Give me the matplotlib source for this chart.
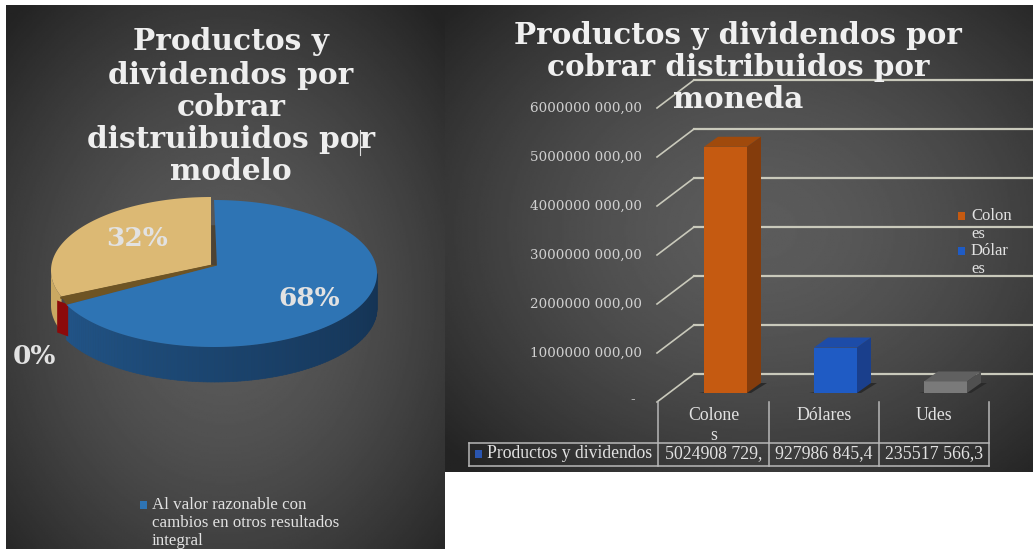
import numpy as np
import matplotlib
matplotlib.use("Agg")
import matplotlib.pyplot as plt
from matplotlib.patches import Polygon, Rectangle

# Left chart data
pie_values = [68, 0.4, 31.6]
pie_labels = ["68%", "0%", "32%"]
pie_title = ["Productos y", "dividendos por", "cobrar", "distruibuidos por", "modelo"]
pie_legend = ["Al valor razonable con", "cambios en otros resultados", "integral"]

# Right chart data
currencies = ["Colones", "Dólares", "Udes"]
amounts = [5024908729.0, 927986845.4, 235517566.3]
amount_cells = ["5024908 729,", "927986 845,4", "235517 566,3"]
y_ticks = [1000000000, 2000000000, 3000000000, 4000000000, 5000000000, 6000000000]
y_tick_labels = ["1000000 000,00", "2000000 000,00", "3000000 000,00",
                 "4000000 000,00", "5000000 000,00", "6000000 000,00"]
bar_title = ["Productos y dividendos por", "cobrar distribuidos por", "moneda"]
bar_legend = ["Colon", "es", "Dólar", "es"]
row_name = "Productos y dividendos"

TXT = "#e2e2e2"
SERIF = "DejaVu Serif"
SMALL = "Liberation Serif"

fig = plt.figure(figsize=(10.33, 5.49), dpi=100, facecolor="white")
ax = fig.add_axes([0, 0, 1, 1])
ax.set_xlim(0, 1033)
ax.set_ylim(549, 0)
ax.axis("off")


def panel(x0, x1, y0, y1, cx, cy):
    # dark panel with a lighter middle
    xs, ys = np.meshgrid(np.linspace(x0, x1, 300), np.linspace(y0, y1, 300))
    d = np.sqrt(((xs - cx) / (x1 - x0)) ** 2 + ((ys - cy) / (y1 - y0)) ** 2)
    g = np.clip(0.36 - 0.38 * d ** 1.6, 0.14, 0.36)
    ax.imshow(g, extent=(x0, x1, y1, y0), cmap="gray", vmin=0, vmax=1,
              aspect="auto", zorder=0)


panel(6, 445, 5, 549, 225, 300)
panel(445, 1033, 5, 472, 760, 230)
ax.set_xlim(0, 1033)
ax.set_ylim(549, 0)

# ---- pie ----
cx, cy, rx, ry, depth = 214, 273.5, 163, 73.5, 35


def rim(theta, off=(0, 0), a=rx):
    return cx + off[0] + a * np.cos(theta), cy + off[1] - ry * np.sin(theta)


fractions = np.array(pie_values) / sum(pie_values)
edges = np.pi / 2 - 2 * np.pi * np.concatenate([[0], np.cumsum(fractions)])
tan_off = (-3, -3)
tan_rx = 160
tan_start = edges[2] - 0.05

# blue wedge wall, strip by strip
a0, a1 = edges[0], edges[1]
wall = np.linspace(max(a1, -np.pi), min(a0, 0), 120)
for i in range(len(wall) - 1):
    x1, y1 = rim(wall[i])
    x2, y2 = rim(wall[i + 1])
    t = i / (len(wall) - 1)
    col = np.array([0.13, 0.33, 0.53]) * (1 - t) ** 1.2 + np.array([0.08, 0.20, 0.33]) * (1 - (1 - t) ** 1.2)
    ax.add_patch(Polygon([(x1, y1), (x2, y2), (x2, y2 + depth), (x1, y1 + depth)],
                         facecolor=col, edgecolor=col, lw=0.5, zorder=2))

# tan wedge wall
tan_a = np.linspace(tan_start, -np.pi, 30)
xt, yt = rim(tan_a, tan_off, tan_rx)
ax.add_patch(Polygon(list(zip(xt, yt)) + list(zip(xt[::-1], yt[::-1] + depth)),
                     facecolor="#c9a862", edgecolor="none", zorder=2))

# red sliver: the very small slice, seen from its wall
xr0, yr0 = rim(edges[1] - 0.005)
xr1, yr1 = rim(edges[1] - 0.005, (-9, -4))
ax.add_patch(Polygon([(xr0 + 2, yr0), (xr1, yr1), (xr1, yr1 + depth - 3), (xr0 + 2, yr0 + depth - 3)],
                     facecolor="#8c0a0a", edgecolor="none", zorder=3))

# tan top
th = np.linspace(tan_start, edges[3], 100)
xt, yt = rim(th, tan_off, tan_rx)
apex_t = (211, 265)
ax.add_patch(Polygon([apex_t] + list(zip(xt, yt)), facecolor="#dcb974", edgecolor="none", zorder=4))
ax.plot([apex_t[0], xt[0]], [apex_t[1] + 1, yt[0] + 1], color="#6e5424", lw=1.8, zorder=4)
ax.plot([apex_t[0] + 3, apex_t[0] + 3], [apex_t[1], apex_t[1] - 37], color="#4e4332", lw=4, zorder=3.5)

# blue top
th = np.linspace(edges[0], edges[1], 200)
xb, yb = rim(th)
apex_b = (217, 265.5)
ax.add_patch(Polygon([apex_b] + list(zip(xb, yb)), facecolor="#2e74b4", edgecolor="none", zorder=5))

# cut face left between the tan and blue slices
ax.add_patch(Polygon([apex_t, (xt[0], yt[0]), (xb[-1], yb[-1]), apex_b],
                     facecolor="#6e5424", edgecolor="none", zorder=3.8))

ax.text(309, 298, pie_labels[0], color=TXT, family=SERIF, weight="bold", fontsize=19, ha="center", va="center", zorder=6)
ax.text(137, 238, pie_labels[2], color=TXT, family=SERIF, weight="bold", fontsize=19, ha="center", va="center", zorder=6)
ax.text(34, 357, pie_labels[1], color=TXT, family=SERIF, weight="bold", fontsize=19, ha="center", va="center", zorder=6)

for line, y in zip(pie_title, [41, 75, 107, 139, 171]):
    ax.text(231, y, line, color="#eeeeee", family=SERIF, weight="bold", fontsize=21.3,
            ha="center", va="center", zorder=6)
ax.plot([360, 360], [130, 155], color="#dddddd", lw=0.8, zorder=7)

ax.add_patch(Rectangle((140, 501), 7, 8, facecolor="#2e74b4", zorder=6))
for line, y in zip(pie_legend, [505, 523, 541]):
    ax.text(152, y, line, color=TXT, family=SMALL, fontsize=12.2, ha="left", va="center", zorder=6)

# ---- 3D columns ----
front_x, back_x, right_x = 657, 694, 1033
front_base, back_base, bar_base = 402, 374, 393
px_per_unit = 49 / 1e9
dx, dy = 14, -10
bar_left = [704, 814, 924]
bar_width = 43
bar_cols = [("#c55a11", "#a04a0c", "#843c0c"),
            ("#1f5bc4", "#1d4ca8", "#1a3f8c"),
            ("#7a7a7a", "#606060", "#505050")]
grid_col = "#c9c9bb"

for v in [0] + y_ticks:
    h = v * px_per_unit
    ax.plot([front_x, back_x], [front_base - h, back_base - h], color=grid_col, lw=1.2, zorder=1)
    ax.plot([back_x, right_x], [back_base - h, back_base - h], color=grid_col, lw=1.6, zorder=1)

for label, v in zip(y_tick_labels, y_ticks):
    ax.text(642, front_base - v * px_per_unit, label, color="#d0d0d0", family=SERIF,
            fontsize=9.7, ha="right", va="center", zorder=6)
ax.text(633, 400, "-", color="#d0d0d0", family=SERIF, fontsize=9.7, ha="center", va="center", zorder=6)

for left, v, (front, top, side) in zip(bar_left, amounts, bar_cols):
    y_top = bar_base - v * px_per_unit
    r = left + bar_width
    # floor shadow
    ax.add_patch(Polygon([(left - 5, bar_base), (r + 4, bar_base), (r + dx + 6, bar_base + dy),
                          (r + dx, bar_base + dy)], facecolor="#2a2a2a", edgecolor="none", zorder=2))
    ax.add_patch(Rectangle((left, y_top), bar_width, bar_base - y_top, facecolor=front, zorder=3))
    ax.add_patch(Polygon([(left, y_top), (r, y_top), (r + dx, y_top + dy), (left + dx, y_top + dy)],
                         facecolor=top, edgecolor="none", zorder=3))
    ax.add_patch(Polygon([(r, y_top), (r + dx, y_top + dy), (r + dx, bar_base + dy), (r, bar_base)],
                         facecolor=side, edgecolor="none", zorder=3))

for line, y in zip(bar_title, [36, 68, 100]):
    ax.text(738, y, line, color="#f0f0f0", family=SERIF, weight="bold", fontsize=21.2,
            ha="center", va="center", zorder=6)

# legend
ax.add_patch(Rectangle((958, 212), 7, 8, facecolor=bar_cols[0][0], zorder=6))
ax.add_patch(Rectangle((958, 247), 7, 8, facecolor=bar_cols[1][0], zorder=6))
for line, y in zip(bar_legend, [216, 234, 251, 269]):
    ax.text(971, y, line, color=TXT, family=SMALL, fontsize=12, ha="left", va="center", zorder=6)

# data table
table_col = "#b8b8b8"
cols = [658, 769, 879, 989]
for x in cols:
    ax.plot([x, x], [402, 466], color=table_col, lw=1.1, zorder=5)
ax.plot([469, 989], [443, 443], color=table_col, lw=1.1, zorder=5)
ax.plot([469, 989], [466, 466], color=table_col, lw=1.1, zorder=5)
ax.plot([469, 469], [443, 466], color=table_col, lw=1.1, zorder=5)

mids = [(cols[i] + cols[i + 1]) / 2 for i in range(3)]
ax.text(mids[0], 416, currencies[0][:-1], color=TXT, family=SMALL, fontsize=12.8, ha="center", va="center", zorder=6)
ax.text(mids[0], 435, currencies[0][-1], color=TXT, family=SMALL, fontsize=12.8, ha="center", va="center", zorder=6)
ax.text(mids[1], 416, currencies[1], color=TXT, family=SMALL, fontsize=12.8, ha="center", va="center", zorder=6)
ax.text(mids[2], 416, currencies[2], color=TXT, family=SMALL, fontsize=12.8, ha="center", va="center", zorder=6)
ax.add_patch(Rectangle((475, 450), 7, 8, facecolor="#2a55b0", zorder=6))
ax.text(487, 454, row_name, color=TXT, family=SMALL, fontsize=12.7, ha="left", va="center", zorder=6)
for m, cell in zip(mids, amount_cells):
    ax.text(m, 454, cell, color=TXT, family=SMALL, fontsize=12.8, ha="center", va="center", zorder=6)

fig.savefig("out.png", dpi=100)
